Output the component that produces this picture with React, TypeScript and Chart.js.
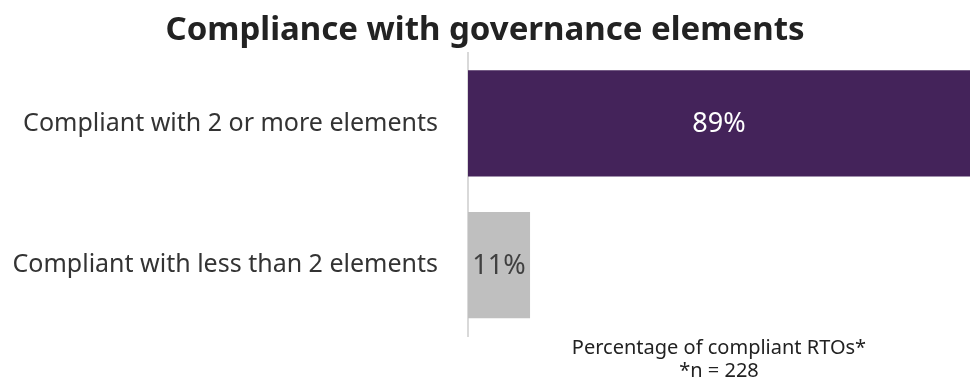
import React, { useEffect, useRef } from "react";
import { Chart, registerables } from "chart.js";

Chart.register(...registerables);

const categories = ["Compliant with 2 or more elements", "Compliant with less than 2 elements"];
const values = [89, 11];
const barColors = ["#44235a", "#bfbfbf"];
const labelColors = ["#ffffff", "#404040"];
const titleText = "Compliance with governance elements";
const axisTitle = ["Percentage of compliant RTOs*", "*n = 228"];

const FONT = "'Noto Sans', 'Open Sans', sans-serif";

const valueLabels = {
  id: "valueLabels",
  afterDatasetsDraw(chart: any) {
    const ctx = chart.ctx;
    const meta = chart.getDatasetMeta(0);
    ctx.save();
    ctx.font = `27px ${FONT}`;
    ctx.textAlign = "center";
    ctx.textBaseline = "middle";
    meta.data.forEach((bar: any, i: number) => {
      const { x, y, base } = bar.getProps(["x", "y", "base"], true);
      ctx.fillStyle = labelColors[i];
      ctx.fillText(values[i] + "%", (x + base) / 2, y + 1);
    });
    ctx.restore();
  },
};

export default function App() {
  const ref = useRef<HTMLCanvasElement>(null);
  useEffect(() => {
    document.body.style.margin = "0";
    const chart = new Chart(ref.current!, {
      type: "bar",
      data: {
        labels: categories,
        datasets: [
          {
            data: values,
            backgroundColor: barColors,
            categoryPercentage: 1,
            barPercentage: 0.75,
          },
        ],
      },
      plugins: [valueLabels],
      options: {
        indexAxis: "y",
        animation: false,
        responsive: false,
        layout: { padding: 0 },
        plugins: {
          legend: { display: false },
          tooltip: { enabled: false },
          title: {
            display: true,
            text: titleText,
            color: "#222222",
            font: { family: FONT, size: 33, weight: "bold", lineHeight: 1.2 },
            padding: { top: 11, bottom: 2 },
          },
        },
        scales: {
          x: {
            min: 0,
            max: 89,
            grid: { display: false, drawTicks: false },
            border: { display: false },
            ticks: { display: false },
            title: {
              display: true,
              text: axisTitle,
              color: "#222222",
              font: { family: FONT, size: 20, lineHeight: 1.15 },
              padding: { top: 1, bottom: 0 },
            },
          },
          y: {
            afterFit(scale: any) {
              scale.width = 468;
            },
            grid: { display: false, drawTicks: false },
            border: { display: true, color: "#d9d9d9", width: 2 },
            ticks: {
              color: "#333333",
              font: { family: FONT, size: 25 },
              padding: 30,
            },
          },
        },
      },
    });
    return () => chart.destroy();
  }, []);
  return (
    <div style={{ width: 970, height: 383 }}>
      <canvas ref={ref} width={970} height={383} />
    </div>
  );
}
